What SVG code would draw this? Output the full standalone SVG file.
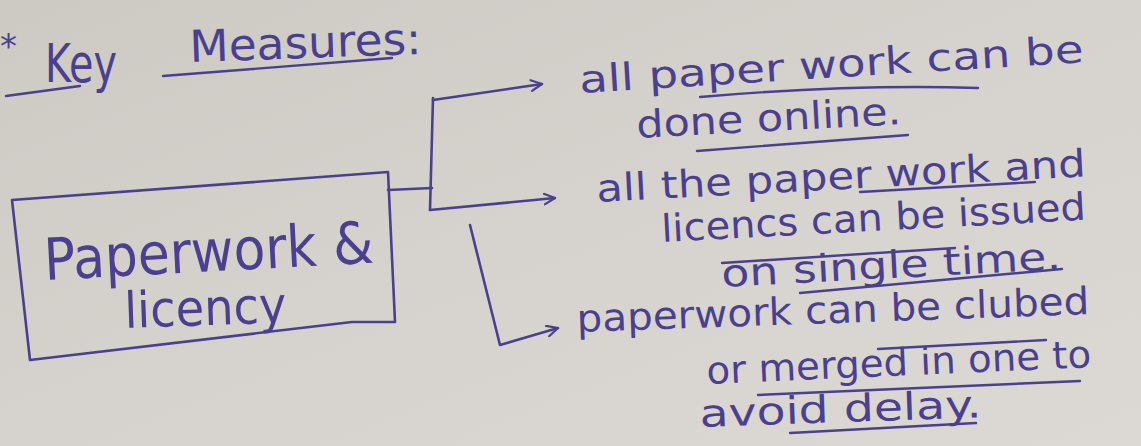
<svg xmlns="http://www.w3.org/2000/svg" width="1141" height="446" viewBox="0 0 1141 446">
<defs>
<linearGradient id="paper" x1="0" y1="0" x2="1" y2="1">
<stop offset="0" stop-color="#cdc9c3"/>
<stop offset="0.5" stop-color="#d6d3ce"/>
<stop offset="1" stop-color="#dcd9d4"/>
</linearGradient>
<marker id="arr" viewBox="0 0 12 12" refX="11" refY="6" markerWidth="5" markerHeight="5" orient="auto" markerUnits="strokeWidth">
<path d="M1,1 L11,6 L1,11" fill="none" stroke="#4b3f8f" stroke-width="2" stroke-linecap="round" stroke-linejoin="round"/>
</marker>
<style>
.ink{fill:none;stroke:#4b3f8f;stroke-width:2.6;stroke-linecap:round;stroke-linejoin:round}
.ul{fill:none;stroke:#4b3f8f;stroke-width:2.4;stroke-linecap:round}
.t{font-family:"DejaVu Sans","Liberation Sans",sans-serif;fill:#4b3f8f;font-weight:normal}
.r{font-size:38px}
</style>
</defs>
<rect x="0" y="0" width="1141" height="446" fill="url(#paper)"/>

<g id="header">
<text class="t" x="0" y="58" font-size="34">*</text>
<text class="t" x="45" y="82" font-size="54" textLength="72" lengthAdjust="spacingAndGlyphs">Key</text>
<text class="t" x="190" y="62" font-size="44" textLength="232" lengthAdjust="spacingAndGlyphs" transform="rotate(-2 190 62)">Measures:</text>
<path class="ul" d="M6,96 L80,86"/>
<path class="ul" d="M163,76 L392,58"/>
</g>

<g id="node-paperwork">
<path class="ink" d="M12,200 L388,172 L395,322 L352,322 L30,360 L12,200"/>
<text class="t" x="45" y="280" font-size="58" textLength="330" lengthAdjust="spacingAndGlyphs" transform="rotate(-3 45 280)">Paperwork &amp;</text>
<text class="t" x="125" y="328" font-size="50" textLength="162" lengthAdjust="spacingAndGlyphs" transform="rotate(-2 125 328)">licency</text>
</g>

<g id="connectors">
<path class="ink" d="M388,190 L432,188"/>
<path class="ink" d="M433,98 L430,210"/>
<path class="ink" d="M433,100 L542,84" marker-end="url(#arr)"/>
<path class="ink" d="M430,210 L555,198" marker-end="url(#arr)"/>
<path class="ink" d="M470,225 L500,345 L558,328" marker-end="url(#arr)"/>
</g>

<g id="item-online">
<text class="t r" x="580" y="93" textLength="505" lengthAdjust="spacingAndGlyphs" transform="rotate(-3.5 580 93)">all paper work can be</text>
<text class="t r" x="637" y="138" textLength="265" lengthAdjust="spacingAndGlyphs" transform="rotate(-3 637 138)">done online.</text>
<path class="ul" d="M700,97 Q850,84 978,88"/>
<path class="ul" d="M697,151 L908,135"/>
</g>

<g id="item-single">
<text class="t r" x="597" y="202" textLength="490" lengthAdjust="spacingAndGlyphs" transform="rotate(-3 597 202)">all the paper work and</text>
<text class="t r" x="662" y="242" textLength="425" lengthAdjust="spacingAndGlyphs" transform="rotate(-3 662 242)">licencs can be issued</text>
<text class="t r" x="722" y="287" textLength="340" lengthAdjust="spacingAndGlyphs" transform="rotate(-3 722 287)">on single time.</text>
<path class="ul" d="M860,192 L1035,182"/>
<path class="ul" d="M722,263 L955,248"/>
<path class="ul" d="M800,293 L1062,269"/>
</g>

<g id="item-merged">
<text class="t r" x="577" y="332" textLength="513" lengthAdjust="spacingAndGlyphs" transform="rotate(-2 577 332)">paperwork can be clubed</text>
<text class="t r" x="707" y="384" textLength="385" lengthAdjust="spacingAndGlyphs" transform="rotate(-2.5 707 384)">or merged in one to</text>
<text class="t r" x="700" y="427" textLength="282" lengthAdjust="spacingAndGlyphs" transform="rotate(-2 700 427)">avoid delay.</text>
<path class="ul" d="M878,349 L1046,340"/>
<path class="ul" d="M758,395 L1080,381"/>
<path class="ul" d="M790,433 L976,423"/>
</g>
</svg>
